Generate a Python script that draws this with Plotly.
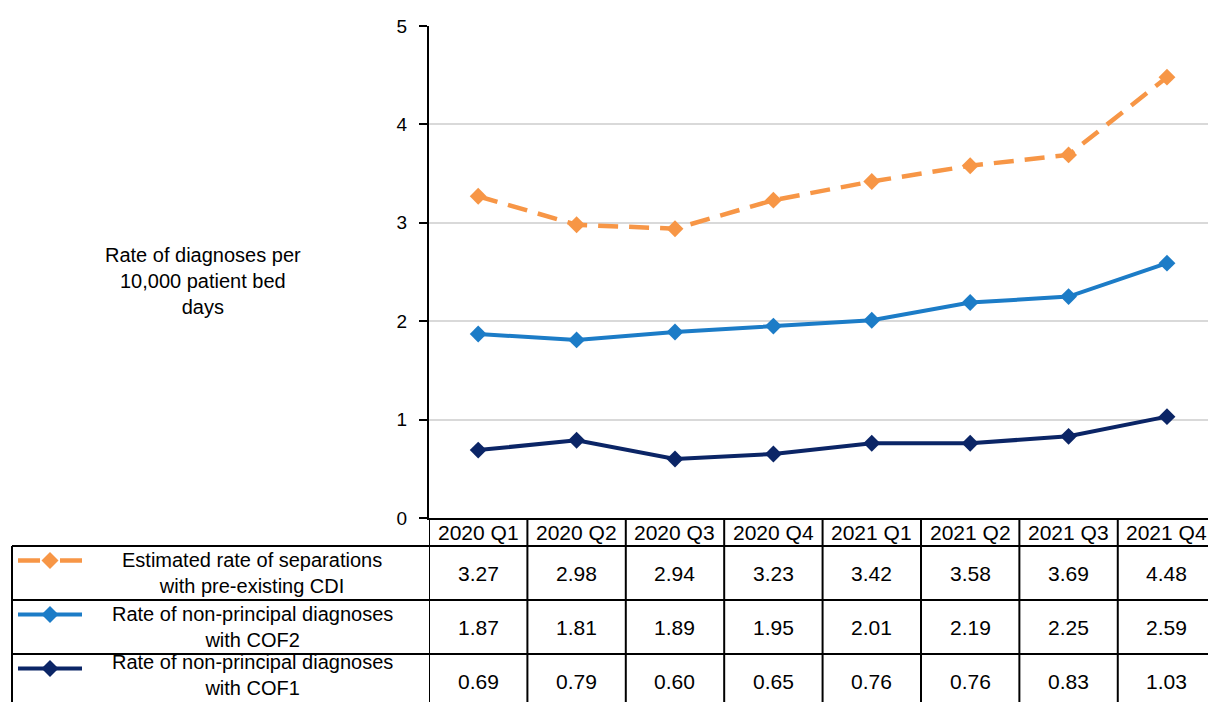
import plotly.graph_objects as go

# ---------------- data ----------------
categories = ["2020 Q1", "2020 Q2", "2020 Q3", "2020 Q4",
              "2021 Q1", "2021 Q2", "2021 Q3", "2021 Q4"]
cdi_rate = [3.27, 2.98, 2.94, 3.23, 3.42, 3.58, 3.69, 4.48]
cof2_rate = [1.87, 1.81, 1.89, 1.95, 2.01, 2.19, 2.25, 2.59]
cof1_rate = [0.69, 0.79, 0.60, 0.65, 0.76, 0.76, 0.83, 1.03]
series_labels = [
    "Estimated rate of separations<br>with pre-existing CDI",
    "Rate of non-principal diagnoses<br>with COF2",
    "Rate of non-principal diagnoses<br>with COF1",
]
y_ticks = [0, 1, 2, 3, 4, 5]
y_title = "Rate of diagnoses per<br>10,000 patient bed<br>days"

# ---------------- style / layout ----------------
W, H = 1208, 702
FONT = "Liberation Sans, Arial, sans-serif"
FS = 21
LFS = 20
ORANGE, BLUE, NAVY = "#F79646", "#1C7CC7", "#0B2566"
X_LEFT = 429          # plot left (px)
Y_ZERO, Y_TOP = 518, 26
ROW_EDGES = [546, 600, 654]   # table row separators (px from top)
TABLE_LEFT = 12

def yp(px):
    return 1 - px / H

def xp(px):
    return px / W

x_idx = list(range(len(categories)))
series = [
    (cdi_rate, ORANGE, "20px,11px", 4.5),
    (cof2_rate, BLUE, "solid", 4),
    (cof1_rate, NAVY, "solid", 4),
]

fig = go.Figure()
for vals, col, dash, lw in series:
    fig.add_trace(go.Scatter(
        x=x_idx, y=vals, mode="lines+markers",
        line=dict(color=col, width=lw, dash=dash),
        marker=dict(symbol="diamond", size=13, color=col),
        showlegend=False, hoverinfo="skip"))

shapes = []
annotations = []

# table horizontal lines
for e in ROW_EDGES:
    shapes.append(dict(type="line", xref="paper", yref="paper",
                       x0=xp(TABLE_LEFT), x1=1, y0=yp(e), y1=yp(e),
                       line=dict(color="black", width=2)))
# table left border
shapes.append(dict(type="line", xref="paper", yref="paper",
                   x0=xp(TABLE_LEFT), x1=xp(TABLE_LEFT), y0=yp(ROW_EDGES[0]), y1=0,
                   line=dict(color="black", width=2)))
# column separators (category boundaries on the x axis)
for i in range(len(categories) + 1):
    shapes.append(dict(type="line", xref="x", yref="paper",
                       x0=i - 0.5, x1=i - 0.5, y0=yp(Y_ZERO), y1=0,
                       line=dict(color="black", width=2)))

# header labels
hdr_y = (Y_ZERO + ROW_EDGES[0]) / 2
for i, c in enumerate(categories):
    annotations.append(dict(x=i, y=yp(hdr_y), xref="x", yref="paper",
                            text=c, showarrow=False, xanchor="center", yanchor="middle",
                            font=dict(size=FS, color="black", family=FONT)))

# value rows
row_tops = ROW_EDGES + [ROW_EDGES[-1] + (ROW_EDGES[1] - ROW_EDGES[0])]
for r, (vals, col, dash, lw) in enumerate(series):
    cy = (row_tops[r] + row_tops[r + 1]) / 2
    for i, v in enumerate(vals):
        annotations.append(dict(x=i, y=yp(cy), xref="x", yref="paper",
                                text=f"{v:.2f}", showarrow=False,
                                xanchor="center", yanchor="middle",
                                font=dict(size=FS, color="black", family=FONT)))
    # legend key
    ky = row_tops[r] + 14.5
    if dash == "solid":
        segs = [(18, 82)]
    else:
        segs = [(18, 40), (60, 82)]
    for a, b in segs:
        shapes.append(dict(type="line", xref="paper", yref="paper",
                           x0=xp(a), x1=xp(b), y0=yp(ky), y1=yp(ky),
                           line=dict(color=col, width=lw)))
    cx, hw = 50, 8.5
    path = (f"M {xp(cx - hw)},{yp(ky)} L {xp(cx)},{yp(ky - hw)} "
            f"L {xp(cx + hw)},{yp(ky)} L {xp(cx)},{yp(ky + hw)} Z")
    shapes.append(dict(type="path", xref="paper", yref="paper", path=path,
                       fillcolor=col, line=dict(color=col, width=0)))
    # legend text (two centred lines)
    ly = min(cy, H - 27.5)
    annotations.append(dict(x=xp(252), y=yp(ly), xref="paper", yref="paper",
                            text=series_labels[r], showarrow=False,
                            xanchor="center", yanchor="middle", align="center",
                            font=dict(size=LFS, color="black", family=FONT)))

# y-axis title
annotations.append(dict(x=xp(203), y=yp(281), xref="paper", yref="paper",
                        text=y_title, showarrow=False, xanchor="center", yanchor="middle",
                        align="center", font=dict(size=20, color="black", family=FONT)))

fig.update_layout(
    width=W, height=H, autosize=False,
    margin=dict(l=0, r=0, t=0, b=0, pad=0, autoexpand=False),
    paper_bgcolor="white", plot_bgcolor="rgba(0,0,0,0)",
    font=dict(family=FONT, size=FS, color="black"),
    xaxis=dict(domain=[xp(X_LEFT), 1], range=[-0.5, 7.417], showticklabels=False,
               ticks="", showgrid=False, zeroline=False, showline=True,
               linecolor="black", linewidth=2, fixedrange=True, automargin=False),
    yaxis=dict(domain=[yp(Y_ZERO), yp(Y_TOP)], range=[0, 5], tickvals=y_ticks,
               showline=True, linecolor="black", linewidth=2,
               ticks="outside", ticklen=8, tickwidth=2, tickcolor="black",
               showgrid=True, gridcolor="#D9D9D9", gridwidth=2, zeroline=False,
               tickfont=dict(size=19, color="black", family=FONT),
               ticklabelstandoff=8, fixedrange=True, automargin=False),
    shapes=shapes, annotations=annotations,
)

fig.write_html("out.html")
